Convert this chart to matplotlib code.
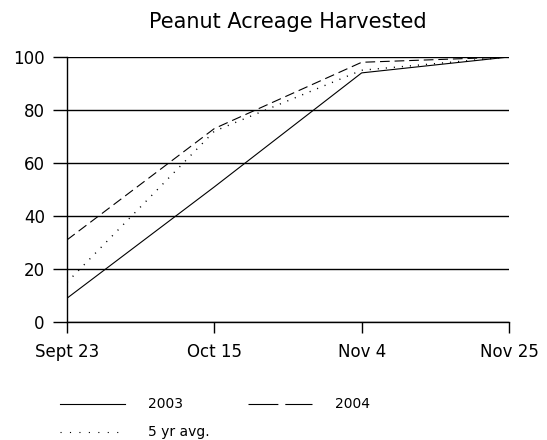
import matplotlib.pyplot as plt
from matplotlib.lines import Line2D

plt.rcParams['font.family'] = ['DejaVu Sans']
plt.rcParams['lines.scale_dashes'] = False

# Data
dates = ['Sept 23', 'Oct 15', 'Nov 4', 'Nov 25']
y2003 = [9, 51, 94, 100]
y2004 = [31, 73, 98, 100]
avg5 = [15, 72, 95, 100]
yticks = [0, 20, 40, 60, 80, 100]

fig = plt.figure(figsize=(5.47, 4.40), dpi=100)
ax = fig.add_axes([0.1225, 0.268, 0.808, 0.6025])

x = list(range(len(dates)))
ax.plot(x, y2003, color='black', lw=0.8, solid_capstyle='butt')
ax.plot(x, y2004, color='black', lw=0.8, linestyle=(0, (7, 3.5)))
ax.plot(x, avg5, color='black', lw=1.0, linestyle=(0, (0.8, 5)))

ax.set_xlim(0, 3)
ax.set_ylim(0, 100)
ax.set_xticks(x)
ax.set_xticklabels(dates, fontsize=12)
ax.set_yticks(yticks)
ax.set_yticklabels([str(v) for v in yticks], fontsize=12)
ax.tick_params(axis='y', length=10, width=1, pad=6)
ax.tick_params(axis='x', length=8, width=1, pad=7)
ax.grid(axis='y', color='black', lw=1)
ax.set_axisbelow(True)
for s in ['top', 'right']:
    ax.spines[s].set_visible(False)
ax.spines['left'].set_linewidth(1)
ax.spines['bottom'].set_linewidth(1)
ax.spines['left'].set_bounds(0, 100)

fig.text(288 / 547, 1 - 22 / 440, 'Peanut Acreage Harvested', fontsize=15,
         ha='center', va='center')

# legend drawn below the plot
def leg_item(x0, x1, y, label, **kw):
    fig.add_artist(Line2D([x0 / 547, x1 / 547], [1 - y / 440, 1 - y / 440],
                          color='black', lw=0.8, **kw))
    fig.text(148 / 547 if x0 < 100 else 335 / 547, 1 - y / 440, label,
             fontsize=10, va='center', ha='left')

leg_item(60, 125, 404, '2003')
leg_item(248, 312, 404, '2004', linestyle=(0, (21.5, 5)))
leg_item(60, 122, 432, '5 yr avg.', linestyle=(0, (0.8, 6)))

fig.savefig('out.png', dpi=100)
